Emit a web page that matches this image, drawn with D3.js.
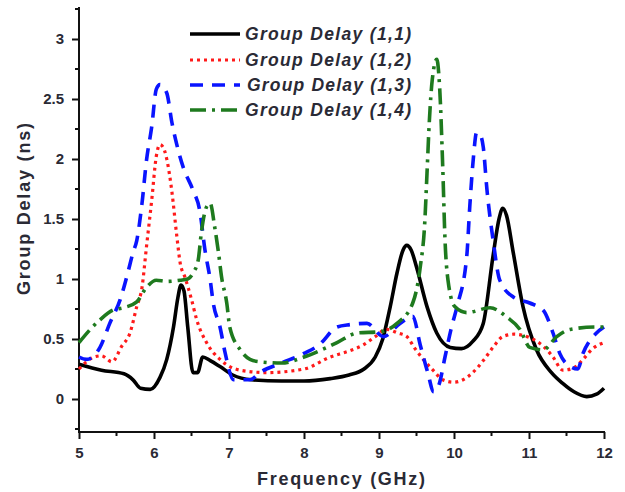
<!DOCTYPE html>
<html><head><meta charset="utf-8">
<script src="https://cdn.jsdelivr.net/npm/d3@7"></script>
<style>
html,body{margin:0;padding:0;background:#fff;}
svg{display:block;font-family:"Liberation Sans",Arial,sans-serif;}
</style></head>
<body><svg id="c" width="625" height="492"></svg>
<script>
const seriesNames = ["Group Delay (1,1)","Group Delay (1,2)","Group Delay (1,3)","Group Delay (1,4)"];
const xTicks = [5,6,7,8,9,10,11,12];
const yTicks = [0,0.5,1,1.5,2,2.5,3];
const yTickLabels = ["0","0.5","1","1.5","2","2.5","3"];

const f11 = [5.0,5.3,5.6,5.72,5.82,5.95,6.08,6.17,6.26,6.32,6.36,6.4,6.45,6.52,6.58,6.65,6.75,6.88,7.05,7.3,7.7,8.0,8.35,8.6,8.8,8.95,9.05,9.15,9.24,9.32,9.37,9.43,9.5,9.64,9.77,9.95,10.1,10.25,10.39,10.52,10.6,10.65,10.7,10.79,10.92,11.1,11.3,11.45,11.6,11.77,11.9,12.0];
const g11 = [0.29,0.24,0.21,0.16,0.09,0.08,0.18,0.33,0.6,0.85,0.95,0.9,0.6,0.22,0.22,0.35,0.32,0.27,0.2,0.16,0.15,0.15,0.17,0.2,0.25,0.35,0.5,0.77,1.05,1.24,1.28,1.24,1.1,0.77,0.55,0.43,0.42,0.48,0.63,1.19,1.5,1.59,1.53,1.22,0.77,0.41,0.22,0.13,0.06,0.02,0.04,0.09];

const f12 = [5.0,5.1,5.2,5.3,5.44,5.57,5.68,5.77,5.84,5.9,5.97,6.03,6.08,6.12,6.17,6.24,6.3,6.35,6.41,6.5,6.57,6.7,6.88,7.15,7.5,8.0,8.35,8.6,8.79,8.95,9.1,9.25,9.37,9.48,9.59,9.72,9.85,10.0,10.12,10.25,10.39,10.52,10.65,10.8,10.92,11.05,11.19,11.32,11.45,11.6,11.72,11.85,12.0];
const g12 = [0.25,0.31,0.35,0.36,0.31,0.44,0.55,0.77,0.93,1.27,1.66,2.02,2.12,2.1,2.0,1.72,1.38,1.13,1.02,0.83,0.66,0.47,0.33,0.24,0.22,0.25,0.35,0.4,0.45,0.52,0.58,0.55,0.52,0.42,0.33,0.24,0.16,0.14,0.16,0.22,0.32,0.43,0.52,0.54,0.53,0.5,0.44,0.35,0.24,0.26,0.33,0.42,0.47];

const f13 = [5.0,5.1,5.18,5.28,5.41,5.55,5.65,5.72,5.77,5.84,5.9,5.97,6.03,6.08,6.17,6.24,6.3,6.39,6.52,6.61,6.68,6.75,6.79,6.88,6.95,7.06,7.28,7.41,7.7,8.0,8.2,8.44,8.61,8.84,9.06,9.28,9.45,9.55,9.65,9.73,9.8,9.88,9.96,10.04,10.17,10.21,10.26,10.3,10.35,10.39,10.44,10.52,10.61,10.79,11.01,11.19,11.32,11.41,11.55,11.65,11.72,11.9,12.0];
const g13 = [0.35,0.33,0.35,0.43,0.63,0.83,1.05,1.22,1.32,1.63,1.99,2.27,2.58,2.62,2.55,2.3,2.13,1.93,1.74,1.57,1.24,0.99,0.8,0.6,0.38,0.16,0.16,0.22,0.3,0.38,0.45,0.6,0.62,0.63,0.52,0.63,0.69,0.45,0.22,0.06,0.12,0.35,0.58,0.77,1.19,1.6,2.02,2.22,2.2,2.1,1.74,1.33,0.99,0.85,0.8,0.74,0.55,0.38,0.27,0.25,0.38,0.55,0.6];

const f14 = [5.0,5.15,5.28,5.45,5.59,5.77,5.9,6.03,6.17,6.35,6.45,6.52,6.59,6.63,6.7,6.75,6.81,6.86,6.9,6.97,7.01,7.15,7.28,7.41,7.7,8.0,8.2,8.44,8.71,9.01,9.24,9.45,9.55,9.61,9.64,9.67,9.71,9.77,9.81,9.85,9.88,9.92,10.01,10.17,10.48,10.71,10.88,11.01,11.19,11.37,11.55,11.9,12.0];
const g14 = [0.47,0.58,0.66,0.74,0.76,0.81,0.93,0.99,0.98,0.99,1.0,1.05,1.16,1.38,1.6,1.63,1.43,1.22,1.02,0.8,0.6,0.41,0.33,0.31,0.3,0.35,0.4,0.47,0.55,0.56,0.63,0.8,1.1,1.47,1.88,2.3,2.66,2.83,2.58,1.93,1.33,0.99,0.77,0.72,0.76,0.68,0.58,0.43,0.41,0.52,0.58,0.6,0.6];

const freqs = [f11,f12,f13,f14];
const delays = [g11,g12,g13,g14];
const colors = ["#000000","#ff1a1a","#0a14ff","#1e7a1e"];
const widths = [3.6,3.2,3.6,3.6];
const dashes = [null,"3,4","13,9","16,6,3,6"];

const svg = d3.select("#c");
const L=79, R=604, T=7, B=432;
const x = d3.scaleLinear().domain([5,12]).range([L,R]);
const y = d3.scaleLinear().domain([0,3]).range([399,39]);

const xMinor = d3.range(5.5,12,1);
const yMinor = [-0.25,0.25,0.75,1.25,1.75,2.25,2.75,3.25].filter(v=>y(v)>=T && y(v)<=B);

const axisColor="#111";
const txtColor="#2a2a35";
const g = svg.append("g");
g.append("line").attr("x1",L).attr("x2",L).attr("y1",T).attr("y2",B).attr("stroke",axisColor).attr("stroke-width",2);
g.append("line").attr("x1",L-1).attr("x2",R+1).attr("y1",B).attr("y2",B).attr("stroke",axisColor).attr("stroke-width",2);

const xa = d3.axisBottom(x).tickValues(xTicks).tickSize(7).tickPadding(8).tickFormat(d3.format("d"));
const gx = svg.append("g").attr("transform",`translate(0,${B})`).call(xa);
gx.select(".domain").remove();
gx.selectAll(".tick line").attr("stroke",axisColor).attr("stroke-width",2);
gx.selectAll(".tick text").attr("font-size",15).attr("font-weight","bold").attr("fill",txtColor).attr("font-family","Liberation Sans, Arial, sans-serif");
g.selectAll(".xm").data(xMinor).enter().append("line").attr("x1",d=>x(d)).attr("x2",d=>x(d)).attr("y1",B).attr("y2",B+4).attr("stroke",axisColor).attr("stroke-width",2);

const ya = d3.axisLeft(y).tickValues(yTicks).tickSize(7).tickPadding(8).tickFormat((d,i)=>yTickLabels[i]);
const gy = svg.append("g").attr("transform",`translate(${L},0)`).call(ya);
gy.select(".domain").remove();
gy.selectAll(".tick line").attr("stroke",axisColor).attr("stroke-width",2);
gy.selectAll(".tick text").attr("font-size",15).attr("font-weight","bold").attr("fill",txtColor).attr("font-family","Liberation Sans, Arial, sans-serif");
g.selectAll(".ym").data(yMinor).enter().append("line").attr("x1",L-4).attr("x2",L).attr("y1",d=>y(d)).attr("y2",d=>y(d)).attr("stroke",axisColor).attr("stroke-width",2);

svg.append("text").attr("x",257).attr("y",485).attr("font-size",18).attr("font-weight","bold").attr("fill",txtColor)
  .attr("textLength",168).attr("lengthAdjust","spacing").text("Frequency (GHz)");
svg.append("text").attr("transform","translate(30,295) rotate(-90)").attr("font-size",18).attr("font-weight","bold").attr("fill",txtColor)
  .attr("textLength",172).attr("lengthAdjust","spacing").text("Group Delay (ns)");

const line = d3.line().x(d=>x(d[0])).y(d=>y(d[1])).curve(d3.curveMonotoneX);
[0,1,2,3].forEach(i=>{
  const pts = freqs[i].map((f,k)=>[f,delays[i][k]]);
  const p = svg.append("path").attr("d",line(pts)).attr("fill","none").attr("stroke",colors[i]).attr("stroke-width",widths[i]).attr("stroke-linejoin","round");
  if(dashes[i]) p.attr("stroke-dasharray",dashes[i]);
});

// legend
const legY=[34,60,85,110];
seriesNames.forEach((n,i)=>{
  const l = svg.append("line").attr("x1",190).attr("x2",240).attr("y1",legY[i]).attr("y2",legY[i]).attr("stroke",colors[i]).attr("stroke-width",widths[i]);
  if(dashes[i]) l.attr("stroke-dasharray",dashes[i]);
  svg.append("text").attr("x",i===2?247:245).attr("y",legY[i]+6).attr("font-size",17.5).attr("font-weight","bold").attr("font-style","italic").attr("fill",txtColor)
    .attr("textLength",i===2?164:166).attr("lengthAdjust","spacing").text(n);
});
</script></body></html>
